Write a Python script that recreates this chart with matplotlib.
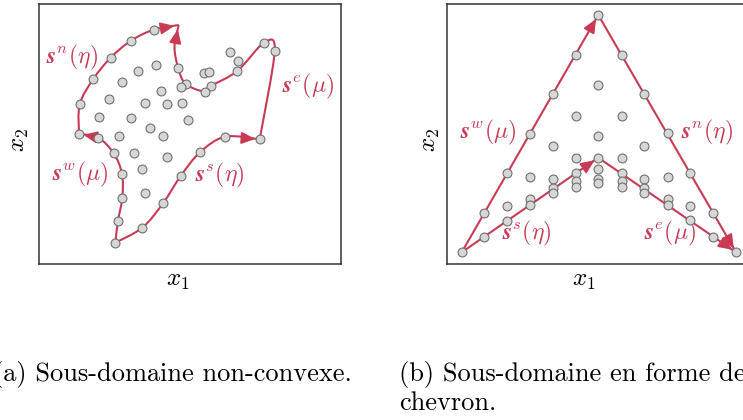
import numpy as np
import matplotlib.pyplot as plt
from matplotlib.path import Path
from matplotlib.patches import PathPatch

plt.rcParams['mathtext.fontset'] = 'cm'

W, H = 743, 420
RED = '#c93a55'
DOT_FACE = '#d6d6d6'
DOT_EDGE = '#707070'

# coordinates (pixel-like units, y pointing down)
# ---- panel (a): non-convex sub-domain
a_south = [(115.3, 242.7), (142.3, 227.7), (163.0, 203.3), (180.7, 176.0),
           (200.3, 152.0), (225.3, 136.7), (259.7, 139.3)]
a_east = [(259.7, 139.3), (274.7, 51.0), (264.0, 42.7), (237.3, 71.0),
          (211.0, 86.0), (205.0, 91.7), (185.7, 84.0), (178.3, 68.3),
          (174.5, 47.0), (178.7, 25.0)]
a_north = [(79.0, 134.0), (79.7, 104.3), (93.3, 79.0), (110.7, 57.7),
           (131.0, 40.7), (153.7, 29.7), (178.7, 25.0)]
a_west = [(115.3, 242.7), (118.0, 220.7), (122.3, 197.7), (122.0, 174.0),
          (113.7, 153.3), (98.0, 137.5), (79.0, 134.0)]
a_inner = [(230.3, 51.7), (238.3, 61.3), (204.3, 73.0), (208.7, 72.0),
           (156.3, 65.0), (137.7, 70.7), (122.0, 82.3), (108.7, 98.7),
           (161.0, 91.0), (180.7, 86.7), (144.7, 103.0), (167.0, 104.0),
           (182.3, 103.0), (99.0, 117.3), (131.0, 118.3), (188.3, 119.7),
           (150.3, 127.7), (119.3, 136.0), (162.5, 136.3), (134.3, 152.7),
           (167.0, 157.3), (142.3, 169.3), (144.7, 192.7)]
a_labels = {'n': (71.5, 57.0, r'$\boldsymbol{s}^{n}(\eta)$'),
            'e': (308.5, 86.0, r'$\boldsymbol{s}^{e}(\mu)$'),
            'w': (80.0, 174.0, r'$\boldsymbol{s}^{w}(\mu)$'),
            's': (219.5, 175.0, r'$\boldsymbol{s}^{s}(\eta)$')}

# ---- panel (b): chevron sub-domain
b_west = [(461.7, 252.3), (598.3, 15.0)]
b_north = [(598.3, 15.0), (736.0, 252.3)]
b_south = [(461.7, 252.3), (598.3, 157.7)]
b_east = [(598.3, 157.7), (736.0, 252.3)]
b_cols = [461.7, 484.3, 507.3, 530.0, 552.7, 576.0, 598.3,
          621.7, 644.3, 667.7, 690.0, 713.3, 736.0]
b_rows = [[252.3],
          [212.7, 236.7],
          [173.3, 206.0, 220.7],
          [134.0, 176.7, 199.3, 205.0],
          [94.3, 145.7, 179.0, 188.3, 192.7],
          [55.0, 115.7, 157.7, 173.3, 180.7, 186.7],
          [15.0, 85.0, 136.0, 157.7, 169.3, 179.3, 182.7],
          [55.0, 115.7, 157.7, 173.3, 180.7, 186.7],
          [94.3, 145.7, 179.0, 188.3, 192.7],
          [133.3, 176.7, 199.3, 205.0],
          [173.3, 206.0, 220.0],
          [212.7, 236.7],
          [252.3]]
b_labels = {'w': (488.0, 132.0, r'$\boldsymbol{s}^{w}(\mu)$'),
            'n': (706.5, 132.0, r'$\boldsymbol{s}^{n}(\eta)$'),
            's': (526.5, 233.0, r'$\boldsymbol{s}^{s}(\eta)$'),
            'e': (670.0, 233.0, r'$\boldsymbol{s}^{e}(\mu)$')}


def smooth_path(pts):
    # Catmull-Rom through the points, drawn as cubic Bezier segments
    p = np.array(pts, dtype=float)
    ext = np.vstack([p[0], p, p[-1]])
    verts = [p[0]]
    codes = [Path.MOVETO]
    for i in range(1, len(ext) - 2):
        c1 = ext[i] + (ext[i + 1] - ext[i - 1]) / 6
        c2 = ext[i + 1] - (ext[i + 2] - ext[i]) / 6
        verts += [c1, c2, ext[i + 1]]
        codes += [Path.CURVE4] * 3
    return Path(verts, codes), verts[-2]


def draw_curve(ax, pts, smooth=True):
    if smooth and len(pts) > 2:
        path, before = smooth_path(pts)
    else:
        path, before = Path(pts), pts[-2]
    ax.add_patch(PathPatch(path, fc='none', ec=RED, lw=1.5, zorder=2))
    end = np.array(pts[-1])
    d = end - np.array(before)
    d = d / np.hypot(*d)
    ax.annotate('', xy=end, xytext=end - 14 * d,
                arrowprops=dict(arrowstyle='-|>,head_length=0.8,head_width=0.35',
                                color=RED, lw=1.5, mutation_scale=10,
                                shrinkA=0, shrinkB=3.2),
                zorder=3)


def setup(ax):
    ax.set_xticks([])
    ax.set_yticks([])
    for s in ax.spines.values():
        s.set_color('#333333')
        s.set_linewidth(1.1)


def dots(ax, pts):
    x, y = zip(*pts)
    ax.plot(x, y, 'o', ms=6.4, mfc=DOT_FACE, mec=DOT_EDGE, mew=0.8, zorder=4)


fig = plt.figure(figsize=(W / 100, H / 100), dpi=100)

# panel (a)
ax1 = fig.add_axes([38.5 / W, 1 - 264 / H, (341 - 38.5) / W, 260 / H])
ax1.set_xlim(38.5, 341)
ax1.set_ylim(264, 4)
setup(ax1)
for c in (a_south, a_east, a_north, a_west):
    draw_curve(ax1, c)
a_dots = a_south + a_east[1:-1] + a_north[:-1] + a_west[1:-1] + a_inner
a_dots = [q for q in a_dots if q != (174.5, 47.0)]
dots(ax1, a_dots)
for x, y, t in a_labels.values():
    ax1.text(x, y, t, color=RED, fontsize=17, ha='center', va='center')

# panel (b)
ax2 = fig.add_axes([447.3 / W, 1 - 264 / H, 302 / W, 260 / H])
ax2.set_xlim(447.3, 749.3)
ax2.set_ylim(264, 4)
setup(ax2)
for c in (b_west, b_north, b_south, b_east):
    draw_curve(ax2, c, smooth=False)
b_dots = [(cx, cy) for cx, ys in zip(b_cols, b_rows) for cy in ys]
dots(ax2, b_dots)
for x, y, t in b_labels.values():
    ax2.text(x, y, t, color=RED, fontsize=17, ha='center', va='center')

# axis labels
for x in (178, 584):
    fig.text(x / W, 1 - 280 / H, r'$x_1$', fontsize=18, ha='center', va='center')
fig.text(19 / W, 1 - 140 / H, r'$x_2$', fontsize=18, ha='center', va='center', rotation=90)
fig.text(430 / W, 1 - 140 / H, r'$x_2$', fontsize=18, ha='center', va='center', rotation=90)

# captions
fig.text(-7 / W, 1 - 375 / H, '(a) Sous-domaine non-convexe.', family='cmr10',
         fontsize=19, ha='left', va='center')
fig.text(399 / W, 1 - 375 / H, '(b) Sous-domaine en forme de', family='cmr10',
         fontsize=19, ha='left', va='center')
fig.text(399 / W, 1 - 403 / H, 'chevron.', family='cmr10',
         fontsize=19, ha='left', va='center')

fig.savefig('out.png', dpi=100)
